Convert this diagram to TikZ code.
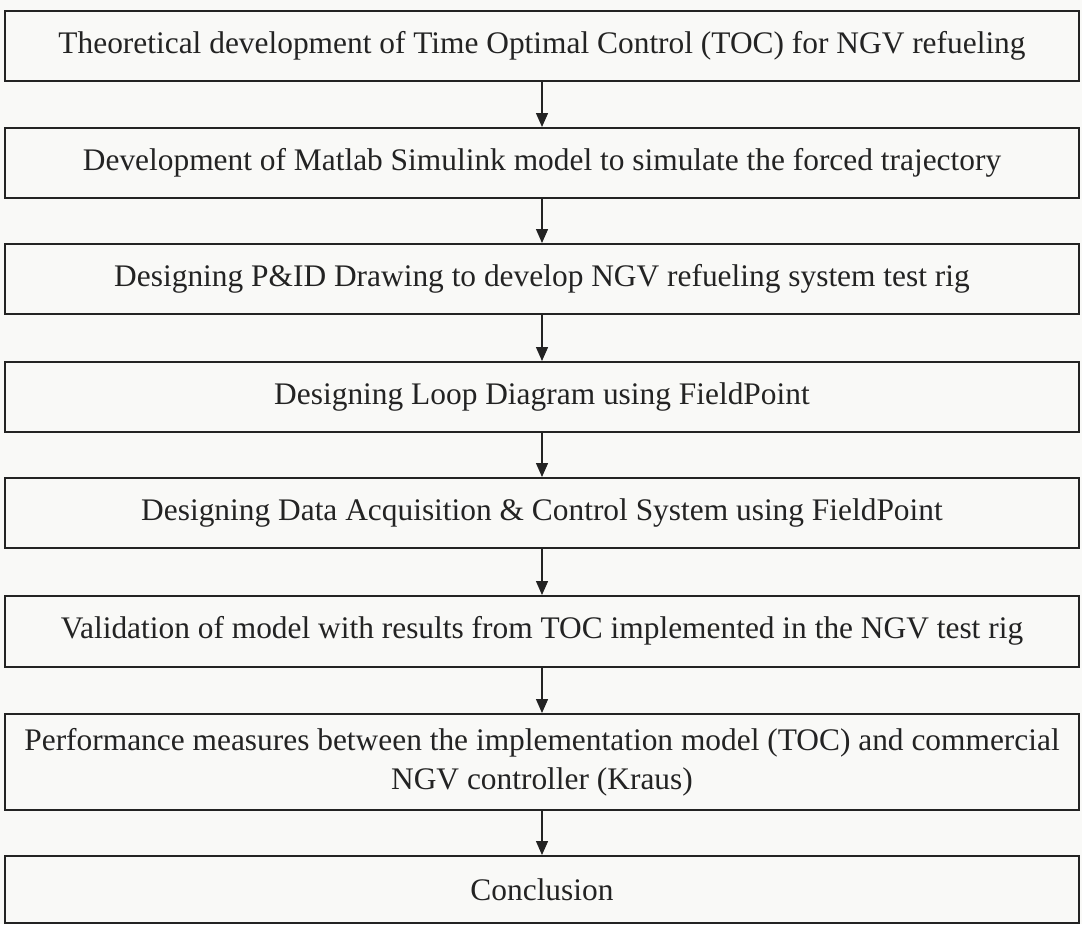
\documentclass[tikz,border=0pt]{standalone}
\usepackage{fontspec}
\setmainfont{Liberation Serif}
\usetikzlibrary{arrows.meta}
\definecolor{bg}{RGB}{249,249,247}
\definecolor{ink}{RGB}{35,35,35}
\tikzset{
  stepbox/.style={draw=ink, line width=1.6pt, minimum width=1074pt, inner sep=0pt, align=center, text=ink,
    font=\fontsize{31.4}{39}\selectfont, anchor=north},
  flow/.style={draw=ink, line width=1.4pt, -{Triangle[length=14pt,width=12pt]}}
}
\begin{document}
\begin{tikzpicture}[x=1pt,y=-1pt]
\fill[bg] (0,0) rectangle (1082,924);
\useasboundingbox (0,0) rectangle (1082,924);
\node[stepbox, minimum height=70pt] (b1) at (542,10) {Theoretical development of Time Optimal Control (TOC) for NGV refueling};
\node[stepbox, minimum height=70pt] (b2) at (542,127) {Development of Matlab Simulink model to simulate the forced trajectory};
\node[stepbox, minimum height=70pt] (b3) at (542,243) {Designing P\&ID Drawing to develop NGV refueling system test rig};
\node[stepbox, minimum height=70pt] (b4) at (542,361) {Designing Loop Diagram using FieldPoint};
\node[stepbox, minimum height=70pt] (b5) at (542,477) {Designing Data Acquisition \& Control System using FieldPoint};
\node[stepbox, minimum height=71pt] (b6) at (542,595) {Validation of model with results from TOC implemented in the NGV test rig};
\node[stepbox, minimum height=96pt] (b7) at (542,713) {Performance measures between the implementation model (TOC) and commercial\\NGV controller (Kraus)};
\node[stepbox, minimum height=67pt] (b8) at (542,855) {Conclusion};
\foreach \a/\b in {b1/b2,b2/b3,b3/b4,b4/b5,b5/b6,b6/b7,b7/b8}
  \draw[flow] (\a.south) -- (\b.north);
\end{tikzpicture}
\end{document}
